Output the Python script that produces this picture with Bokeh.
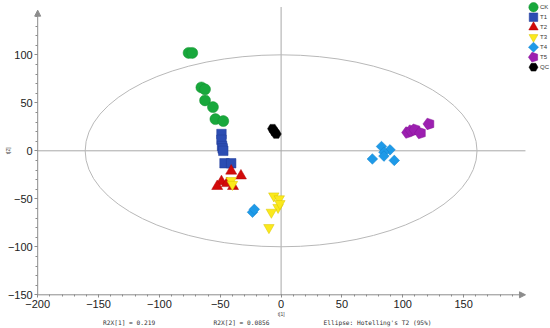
import math
from bokeh.plotting import figure
from bokeh.models import Arrow, NormalHead, Label, FixedTicker
from bokeh.embed import file_html
from bokeh.resources import INLINE

# ---- data ----
groups = ["CK", "T1", "T2", "T3", "T4", "T5", "QC"]
ck_x = [-76, -73, -65.5, -62.5, -62.5, -56, -54, -47.5]
ck_y = [102, 102, 66, 64, 52.5, 45.5, 33, 31]
t1_x = [-49, -49, -48.5, -48, -47.5, -46.5, -41]
t1_y = [17.5, 11.5, 5, 2.5, 0, -13, -13]
t2_x = [-41, -33, -49, -52.5, -39.5, -44.5]
t2_y = [-21, -26, -32, -37, -37, -34]
t3_x = [-41, -40, -6, -1.5, -2.5, -8, -10, -1]
t3_y = [-31, -35, -47, -50, -59, -64, -80, -55]
t4_x = [-23.5, -22, 82.5, 89.5, 84.5, 75, 84.5, 93]
t4_y = [-64, -61, 4.5, 1, -1.5, -8.5, -5.5, -10]
t5_x = [104, 107, 110, 114.5, 121.5]
t5_y = [19, 21, 22, 18.5, 28]
qc_x = [-7, -5.5, -4]
qc_y = [23, 20, 17.5]

x_ticks = [-200, -150, -100, -50, 0, 50, 100, 150]
y_ticks = [-150, -100, -50, 0, 50, 100]
ellipse_a = 161   # Hotelling T2 ellipse semi-axis along t[1]
ellipse_b = 100   # semi-axis along t[2]
r2x_1 = "0.219"
r2x_2 = "0.0856"

# ---- layout (pixel mapping of the canvas) ----
W, H = 550, 328
PX_PER_X = 1.217
PX_PER_Y = 0.96
X0_PX = 280.6   # canvas x of t[1] = 0
Y0_PX = 150.3   # canvas y of t[2] = 0


def xd(px):
    return (px - X0_PX) / PX_PER_X


def yd(py):
    return (Y0_PX - py) / PX_PER_Y


X_AX, Y_AX = -200, -150
AX_END_X, AX_END_Y = 200.8, 146.5

p = figure(width=W, height=H, output_backend="svg", toolbar_location=None,
           x_range=(xd(0), xd(W)), y_range=(yd(H), yd(0)),
           min_border=0, min_border_left=0, min_border_right=0,
           min_border_top=0, min_border_bottom=0)
p.outline_line_color = None
p.xgrid.visible = False
p.ygrid.visible = False

AX = "#8c8c8c"
for ax in (p.xaxis[0], p.yaxis[0]):
    ax.axis_line_color = None
    ax.major_tick_line_color = AX
    ax.minor_tick_line_color = AX
    ax.major_tick_out = 3
    ax.major_tick_in = 0
    ax.minor_tick_out = 2
    ax.minor_tick_in = 0
    ax.major_label_text_font = "Liberation Sans"
    ax.major_label_text_font_size = "11px"
    ax.major_label_text_color = "#222222"
    ax.major_label_standoff = 2
p.xaxis[0].fixed_location = Y_AX
p.yaxis[0].fixed_location = X_AX
p.xaxis[0].bounds = (X_AX, 196)
p.yaxis[0].bounds = (Y_AX, 141)
p.xaxis[0].ticker = FixedTicker(ticks=x_ticks, minor_ticks=list(range(-200, 200, 10)))
p.yaxis[0].ticker = FixedTicker(ticks=y_ticks, minor_ticks=list(range(-150, 145, 10)))

# axis arrows
p.add_layout(Arrow(x_start=X_AX, y_start=Y_AX, x_end=AX_END_X, y_end=Y_AX,
                   line_color=AX, line_width=1,
                   end=NormalHead(size=6, fill_color=AX, line_color=AX)))
p.add_layout(Arrow(x_start=X_AX, y_start=Y_AX, x_end=X_AX, y_end=AX_END_Y,
                   line_color=AX, line_width=1,
                   end=NormalHead(size=6, fill_color=AX, line_color=AX)))

# center lines
p.segment(x0=[0], y0=[Y_AX], x1=[0], y1=[yd(6.5)], line_color="#a8a8a8", line_width=1)
p.segment(x0=[X_AX], y0=[0], x1=[AX_END_X], y1=[0], line_color="#a8a8a8", line_width=1)

# Hotelling ellipse
p.ellipse(x=[0], y=[0], width=[2 * ellipse_a], height=[2 * ellipse_b],
          fill_color=None, line_color="#b8b8b8", line_width=1)

styles = {
    "CK": dict(marker="circle", size=11, fill_color="#18a83c", line_color="#12922f"),
    "T1": dict(marker="square", size=9.5, fill_color="#2c4db3", line_color="#203c99"),
    "T2": dict(marker="triangle", size=11, fill_color="#d20a0a", line_color="#b00000"),
    "T3": dict(marker="inverted_triangle", size=10.5, fill_color="#fbe91c", line_color="#d9c400"),
    "T4": dict(marker="square", angle=math.pi / 4, size=7.5, fill_color="#1e9ae8", line_color="#1282cc"),
    "T5": dict(ngon=5, radius=6, fill_color="#9c1fb0", line_color="#861596"),
    "QC": dict(marker="hex", size=10, fill_color="#000000", line_color="#000000"),
}
legend_scale = {"CK": 0.85, "T1": 0.9, "T2": 0.85, "T3": 0.85, "T4": 0.95, "T5": 0.85, "QC": 0.9}
data = {"CK": (ck_x, ck_y), "T1": (t1_x, t1_y), "T2": (t2_x, t2_y), "T3": (t3_x, t3_y),
        "T4": (t4_x, t4_y), "T5": (t5_x, t5_y), "QC": (qc_x, qc_y)}


def draw(xs, ys, st, scale=1.0):
    st = dict(st)
    if "ngon" in st:
        n = st.pop("ngon")
        rad = st.pop("radius") * scale
        p.ngon(x=xs, y=ys, radius=rad, radius_units="screen", n=n, angle=math.pi / 2,
               line_width=0.5, **st)
    else:
        st["size"] = st["size"] * scale
        p.scatter(x=xs, y=ys, line_width=0.5, **st)


for g in groups:
    xs, ys = data[g]
    draw(xs, ys, styles[g])

# legend (top right), rows 10 px apart
LEG_MARK_PX = 533
LEG_TEXT_PX = 539.5
LEG_ROW0_PY = 6.7
LEG_DY = 10
for i, g in enumerate(groups):
    py = LEG_ROW0_PY + i * LEG_DY
    draw([xd(LEG_MARK_PX)], [yd(py)], styles[g], legend_scale[g])
    p.add_layout(Label(x=xd(LEG_TEXT_PX), y=yd(py), text=g, text_font="Liberation Sans",
                       text_font_size="6px", text_color="#333333", text_baseline="middle"))

lab_font = "DejaVu Sans Mono"
TXT_Y = yd(321.5)
for txt, px in [("R2X[1] = " + r2x_1, 102.5), ("R2X[2] = " + r2x_2, 213),
                ("Ellipse: Hotelling's T2 (95%)", 323)]:
    p.add_layout(Label(x=xd(px), y=TXT_Y, text=txt, text_font=lab_font,
                       text_font_size="6.2px", text_color="#333333", text_baseline="middle"))
p.add_layout(Label(x=0, y=yd(313.5), text="t[1]", text_font="Liberation Sans",
                   text_font_size="5px", text_color="#444444", text_baseline="middle",
                   text_align="center"))
p.add_layout(Label(x=xd(7.3), y=0, text="t[2]", text_font="Liberation Sans", angle=math.pi / 2,
                   text_font_size="5px", text_color="#444444", text_baseline="middle",
                   text_align="center"))

open("out.html", "w").write(file_html(p, INLINE))
